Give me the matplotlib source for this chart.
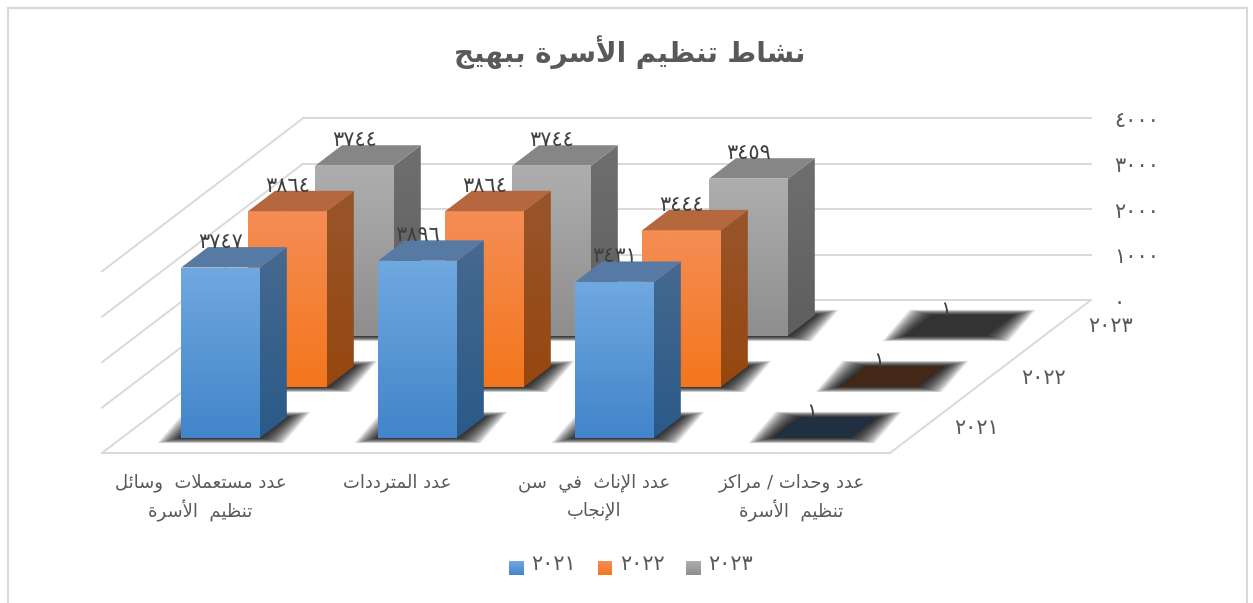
import numpy as np
import matplotlib
matplotlib.use("Agg")
import matplotlib.pyplot as plt
from matplotlib.patches import Polygon, Rectangle

title_text = "نشاط تنظيم الأسرة ببهيج"
categories = [
    ["عدد مستعملات  وسائل", "تنظيم  الأسرة"],
    ["عدد المترددات"],
    ["عدد الإناث  في  سن", "الإنجاب"],
    ["عدد وحدات / مراكز", "تنظيم  الأسرة"],
]
years = [2021, 2022, 2023]
values_2021 = [3747, 3896, 3431, 1]
values_2022 = [3864, 3864, 3444, 1]
values_2023 = [3744, 3744, 3459, 1]
z_ticks = [0, 1000, 2000, 3000, 4000]

# front colours (top, bottom), side (top, bottom), roof
colors = {
    2021: [("#70a8e0", "#4285c9"), ("#46698f", "#2a5a88"), "#577aa5"],
    2022: [("#f48d55", "#f4761c"), ("#98552b", "#96470f"), "#b5673e"],
    2023: [("#aeaeae", "#8e8e8e"), ("#6f6f6f", "#5e5e5e"), "#868686"],
}
flat_colors = {2021: "#203040", 2022: "#432818", 2023: "#333333"}

# oblique projection of the excel 3d box
FX, FY = 102, 453
CAT_W = 197
DEPTH_X, DEPTH_Y = 67, -51
Z_SCALE = 0.04542
BAR = 0.4
GAP = 0.3
GRID = "#d9d9d9"
TXT = "#595959"
NUM_SIZE = 15


def proj(x, y, z=0):
    return (FX + CAT_W * x + DEPTH_X * y, FY + DEPTH_Y * y - Z_SCALE * z)


# matplotlib has no arabic shaping so map to presentation forms by hand
FORMS = {
    "ء": (0xFE80, 1), "آ": (0xFE81, 2), "أ": (0xFE83, 2), "ؤ": (0xFE85, 2), "إ": (0xFE87, 2),
    "ئ": (0xFE89, 4), "ا": (0xFE8D, 2), "ب": (0xFE8F, 4), "ة": (0xFE93, 2), "ت": (0xFE95, 4),
    "ث": (0xFE99, 4), "ج": (0xFE9D, 4), "ح": (0xFEA1, 4), "خ": (0xFEA5, 4), "د": (0xFEA9, 2),
    "ذ": (0xFEAB, 2), "ر": (0xFEAD, 2), "ز": (0xFEAF, 2), "س": (0xFEB1, 4), "ش": (0xFEB5, 4),
    "ص": (0xFEB9, 4), "ض": (0xFEBD, 4), "ط": (0xFEC1, 4), "ظ": (0xFEC5, 4), "ع": (0xFEC9, 4),
    "غ": (0xFECD, 4), "ف": (0xFED1, 4), "ق": (0xFED5, 4), "ك": (0xFED9, 4), "ل": (0xFEDD, 4),
    "م": (0xFEE1, 4), "ن": (0xFEE5, 4), "ه": (0xFEE9, 4), "و": (0xFEED, 2), "ى": (0xFEEF, 2),
    "ي": (0xFEF1, 4),
}
LAM_ALEF = {"ا": 0xFEFB, "أ": 0xFEF7, "إ": 0xFEF9, "آ": 0xFEF5}


def shape(text):
    text_out = []
    i = 0
    prev_joins = False
    while i < len(text):
        ch = text[i]
        if ch not in FORMS:
            text_out.append(ch)
            prev_joins = False
            i += 1
            continue
        nxt = text[i + 1] if i + 1 < len(text) else ""
        if ch == "ل" and nxt in LAM_ALEF:
            text_out.append(chr(LAM_ALEF[nxt] + (1 if prev_joins else 0)))
            prev_joins = False
            i += 2
            continue
        start, n = FORMS[ch]
        next_ok = nxt in FORMS and FORMS[nxt][1] > 1
        if n == 1:
            form = 0
        elif n == 2:
            form = 1 if prev_joins else 0
        elif prev_joins and next_ok:
            form = 3
        elif prev_joins:
            form = 1
        elif next_ok:
            form = 2
        else:
            form = 0
        text_out.append(chr(start + form))
        prev_joins = n == 4
        i += 1
    return "".join(reversed(text_out))


def digits(v):
    return str(v).translate(str.maketrans("0123456789", "٠١٢٣٤٥٦٧٨٩"))


def gradient(ax, pts, top, bottom, z):
    pts = np.array(pts)
    c0 = np.array(matplotlib.colors.to_rgb(top))
    c1 = np.array(matplotlib.colors.to_rgb(bottom))
    t = np.linspace(0, 1, 64)[:, None]
    img = (c0 + (c1 - c0) * t)[:, None, :]
    im = ax.imshow(img, extent=(pts[:, 0].min(), pts[:, 0].max(), pts[:, 1].max(), pts[:, 1].min()),
                   aspect="auto", zorder=z, interpolation="bilinear")
    im.set_clip_path(Polygon(pts, transform=ax.transData))


def shadow(ax, x0, x1, y0, y1, z):
    foot = np.array([proj(x0, y0), proj(x1, y0), proj(x1, y1), proj(x0, y1)])
    mid = foot.mean(axis=0)
    for t in np.linspace(1, 0.05, 26):
        pad_x, pad_y = 24 * t, 5.5 * t
        pts = foot.copy()
        pts[:, 0] += np.sign(pts[:, 0] - mid[0]) * pad_x
        pts[:, 1] += np.sign(pts[:, 1] - mid[1]) * pad_y
        ax.add_patch(Polygon(pts, fc="black", ec="none", alpha=0.055, zorder=z))


fig = plt.figure(figsize=(12.53, 6.03), dpi=100)
plt.rcParams["font.family"] = "DejaVu Sans"
ax = fig.add_axes([0, 0, 1, 1])

ax.add_patch(Rectangle((8, 8), 1239, 640, fc="white", ec=GRID, lw=1.5, zorder=0))

# walls and floor
for tick in z_ticks:
    ax.plot(*zip(proj(0, 3, tick), proj(4, 3, tick)), color=GRID, lw=1.4, zorder=1)
    ax.plot(*zip(proj(0, 0, tick), proj(0, 3, tick)), color=GRID, lw=1.4, zorder=1)
    px, py = proj(4, 3, tick)
    ax.text(px + 23, py + 2.5, digits(tick), ha="left", va="center", fontsize=NUM_SIZE, color=TXT, zorder=30)
ax.plot(*zip(proj(0, 0), proj(4, 0), proj(4, 3)), color=GRID, lw=1.4, zorder=1)

# back row first so the nearer bars paint over
all_values = {2021: values_2021, 2022: values_2022, 2023: values_2023}
for row in range(len(years) - 1, -1, -1):
    year = years[row]
    front, side, roof = colors[year]
    z = 10 + (len(years) - row) * 3
    y0, y1 = row + GAP, row + GAP + BAR
    for c, v in enumerate(all_values[year]):
        x0, x1 = c + GAP, c + GAP + BAR
        shadow(ax, x0, x1, y0, y1, z - 1)
        if v < 50:
            ax.add_patch(Polygon([proj(x0, y0), proj(x1, y0), proj(x1, y1), proj(x0, y1)],
                                 fc=flat_colors[year], ec="none", zorder=z))
        else:
            gradient(ax, [proj(x0, y0, v), proj(x1, y0, v), proj(x1, y0), proj(x0, y0)], front[0], front[1], z)
            gradient(ax, [proj(x1, y0, v), proj(x1, y1, v), proj(x1, y1), proj(x1, y0)], side[0], side[1], z)
            ax.add_patch(Polygon([proj(x0, y0, v), proj(x1, y0, v), proj(x1, y1, v), proj(x0, y1, v)],
                                 fc=roof, ec="none", zorder=z))
        lx, ly = proj(c + 0.5, y1, v)
        ax.text(lx - DEPTH_X * BAR, ly - 5, digits(v), ha="center", va="center", fontsize=NUM_SIZE,
                color="#404040", zorder=30)
    px, py = proj(4, row + 0.5)
    ax.text(px + 53, py + 1, digits(year), ha="center", va="center", fontsize=NUM_SIZE, color=TXT, zorder=30)

for c, lines in enumerate(categories):
    px, py = proj(c + 0.5, 0)
    for n, line in enumerate(lines):
        ax.text(px, py + 30 + n * 28, shape(line), ha="center", va="center", fontsize=13, color=TXT, zorder=30)

ax.text(630, 52, shape(title_text), ha="center", va="center", fontsize=20, fontweight="bold", color=TXT, zorder=30)

# legend
for i, year in enumerate(years):
    lx = 509 + i * 88.5
    top, bottom = colors[year][0]
    gradient(ax, [(lx, 561), (lx + 14.5, 561), (lx + 14.5, 575), (lx, 575)], top, bottom, 30)
    ax.text(lx + 45, 564, digits(year), ha="center", va="center", fontsize=NUM_SIZE, color=TXT, zorder=30)

ax.set_xlim(0, 1253)
ax.set_ylim(603, 0)
ax.axis("off")
fig.savefig("out.png", dpi=100)
